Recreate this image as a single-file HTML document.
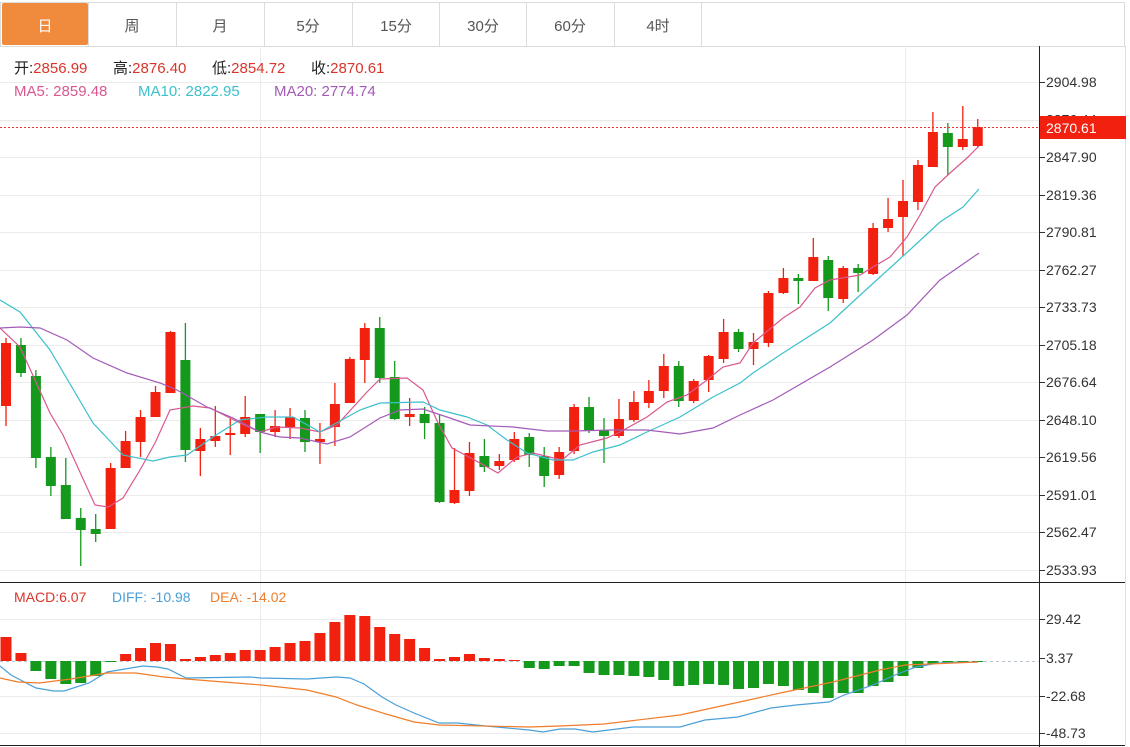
<!DOCTYPE html>
<html><head><meta charset="utf-8"><style>
html,body{margin:0;padding:0;background:#fff;width:1130px;height:747px;overflow:hidden;font-family:"Liberation Sans","Noto Sans CJK SC",sans-serif;}
svg{position:absolute;left:0;top:0}
</style></head><body>
<svg id="s" width="1130" height="747" xmlns="http://www.w3.org/2000/svg" font-family="Liberation Sans, Noto Sans CJK SC, sans-serif">
<rect x="0" y="0" width="1130" height="747" fill="#fff"/>
<rect x="0.5" y="2.5" width="1124" height="44" fill="#fff" stroke="#dcdcdc"/>
<rect x="2" y="3" width="86" height="42" fill="#f08a3c" rx="2"/>
<g stroke="#dcdcdc"><line x1="176.5" y1="3" x2="176.5" y2="46"/><line x1="264.5" y1="3" x2="264.5" y2="46"/><line x1="352.5" y1="3" x2="352.5" y2="46"/><line x1="439.5" y1="3" x2="439.5" y2="46"/><line x1="526.5" y1="3" x2="526.5" y2="46"/><line x1="614.5" y1="3" x2="614.5" y2="46"/><line x1="701.5" y1="3" x2="701.5" y2="46"/><line x1="88.5" y1="3" x2="88.5" y2="46"/></g>
<g font-size="15" fill="#555" text-anchor="middle">
<text x="45" y="31" fill="#fff">日</text><text x="132" y="31">周</text><text x="220" y="31">月</text><text x="308" y="31">5分</text><text x="396" y="31">15分</text><text x="483" y="31">30分</text><text x="570" y="31">60分</text><text x="658" y="31">4时</text>
</g>
<g id="grid" stroke="#ebebeb" stroke-width="1"></g>
<line x1="260.5" y1="46" x2="260.5" y2="745" stroke="#ebebeb"/>
<line x1="905.5" y1="46" x2="905.5" y2="745" stroke="#ebebeb"/>
<line x1="1125.5" y1="46" x2="1125.5" y2="745" stroke="#e0e0e0"/>
<g id="c"></g>
<g id="lines" fill="none" stroke-width="1.2"></g>
<line x1="0" y1="127.5" x2="1040" y2="127.5" stroke="#e33" stroke-dasharray="2,2"/>
<line x1="0" y1="661.5" x2="1040" y2="661.5" stroke="#b8c4d0" stroke-dasharray="3,3"/>
<g id="m"></g>
<g id="ml" fill="none" stroke-width="1.2"></g>
<line x1="0" y1="582.5" x2="1125" y2="582.5" stroke="#222"/>
<line x1="0" y1="745.5" x2="1125" y2="745.5" stroke="#222"/>
<line x1="1039.5" y1="46" x2="1039.5" y2="747" stroke="#222"/>
<g id="ax" font-size="14" fill="#333"></g>
<rect x="1040" y="116" width="86" height="23" fill="#f2200f"/>
<text x="1046" y="133" font-size="14" fill="#fff">2870.61</text>
<g font-size="15">
<text x="14" y="73" fill="#222">开:<tspan fill="#d9352a">2856.99</tspan></text>
<text x="113" y="73" fill="#222">高:<tspan fill="#d9352a">2876.40</tspan></text>
<text x="212" y="73" fill="#222">低:<tspan fill="#d9352a">2854.72</tspan></text>
<text x="311" y="73" fill="#222">收:<tspan fill="#d9352a">2870.61</tspan></text>
<text x="14" y="96" fill="#d9578f">MA5: 2859.48</text>
<text x="138" y="96" fill="#3cc0cc">MA10: 2822.95</text>
<text x="274" y="96" fill="#a45ab8">MA20: 2774.74</text>
</g>
<g font-size="14">
<text x="14" y="602" fill="#d9352a">MACD:6.07</text>
<text x="112" y="602" fill="#4a9fd8">DIFF: -10.98</text>
<text x="210" y="602" fill="#ef7d2a">DEA: -14.02</text>
</g>
</svg>
<script>
var NS="http://www.w3.org/2000/svg";
function el(p,t,a){var e=document.createElementNS(NS,t);for(var k in a)e.setAttribute(k,a[k]);document.getElementById(p).appendChild(e);return e;}
var gy=[82,119.5,157,195,232,270,307,345,382,420,457,495,532,570];
var gl=["2904.98","2876.44","2847.90","2819.36","2790.81","2762.27","2733.73","2705.18","2676.64","2648.10","2619.56","2591.01","2562.47","2533.93"];
gy.forEach(function(y,i){el("grid","line",{x1:0,y1:Math.round(y)+.5,x2:1040,y2:Math.round(y)+.5});el("grid","line",{x1:1040,y1:Math.round(y)+.5,x2:1045,y2:Math.round(y)+.5,stroke:"#333"});var t=el("ax","text",{x:1046,y:y+5});t.textContent=gl[i];});
[[619,"29.42"],[696,"-22.68"],[733,"-48.73"]].forEach(function(a){el("grid","line",{x1:0,y1:a[0]+.5,x2:1040,y2:a[0]+.5});});
[[619,"29.42"],[658,"3.37"],[696,"-22.68"],[733,"-48.73"]].forEach(function(a){el("grid","line",{x1:1040,y1:a[0]+.5,x2:1045,y2:a[0]+.5,stroke:"#333"});var t=el("ax","text",{x:1046,y:a[0]+5});t.textContent=a[1];});
var C=[[343,406,338,426,1],[345,373,338,377,0],[376,458,370,468,0],[457,486,447,496,0],[485,519,458,519,0],[518,530,508,566,0],[529,534,514,542,0],[468,529,463,529,1],[441,468,431,468,1],[417,442,410,457,1],[392,417,386,417,1],[332,393,331,393,1],[360,450,323,462,0],[439,451,428,476,1],[436,441,406,447,1],[433,435,418,455,1],[417,434,396,437,1],[414,432,414,453,0],[426,432,410,437,1],[417,427,408,439,1],[418,442,410,452,0],[439,442,423,464,1],[404,427,383,446,1],[359,403,357,403,1],[328,360,323,383,1],[328,378,317,383,0],[377,419,361,420,0],[414,417,398,426,1],[414,423,407,439,0],[423,502,415,503,0],[490,503,448,504,1],[453,491,442,496,1],[456,467,439,472,0],[461,466,454,470,1],[439,460,432,462,1],[437,455,433,467,0],[456,476,447,487,0],[452,475,447,479,1],[407,451,404,454,1],[407,431,397,433,0],[430,436,418,463,0],[419,436,399,438,1],[402,420,391,422,1],[391,403,380,408,1],[366,391,354,398,1],[366,401,361,407,0],[381,401,379,403,1],[356,380,355,392,1],[332,359,319,363,1],[332,349,329,352,0],[342,349,333,365,1],[293,343,291,347,1],[278,293,268,294,1],[278,281,274,304,0],[257,281,238,281,1],[260,298,256,311,0],[268,299,266,303,1],[268,273,264,292,0],[228,274,223,275,1],[219,228,198,232,1],[201,217,180,256,1],[165,202,160,210,1],[132,167,112,167,1],[133,147,123,175,0],[139,147,106,150,1],[127,146,119,147,1]];
var R="#f2200f",G="#14991c";
C.forEach(function(c,i){var x=6+i*14.95;var col=c[4]?R:G;el("c","line",{x1:x,y1:c[2],x2:x,y2:c[3],stroke:col,"stroke-width":1.3});el("c","rect",{x:x-5,y:c[0],width:10,height:Math.max(2,c[1]-c[0]),fill:col});});
function pl(p,pts,col){el(p,"polyline",{points:pts,stroke:col});}
pl("lines","0,328 20,347 50,413 63,435 95,505 108,507 123,498 140,470 155,443 170,410 193,406 210,408 240,423 260,432 277,427 300,428 320,432 337,425 367,392 380,379 407,378 423,390 438,423 452,448 480,463 498,473 517,457 533,453 562,460 580,445 607,438 620,432 647,417 667,402 687,395 707,380 723,367 740,363 753,343 783,318 800,307 815,288 830,280 860,275 873,267 890,257 907,237 920,215 935,187 950,173 967,158 979,146","#d9578f");
pl("lines","0,300 20,312 50,350 93,423 123,455 153,461 170,457 187,455 213,437 240,420 267,417 293,417 320,432 360,410 380,403 423,402 440,410 467,417 487,425 507,440 527,453 553,460 573,460 593,452 620,445 647,432 680,417 713,397 740,383 753,373 783,353 830,323 857,298 890,268 913,247 940,222 963,207 979,189","#3cc0cc");
pl("lines","0,328 20,327 40,328 67,340 93,358 127,373 160,383 177,390 207,407 233,418 260,432 280,437 300,438 327,444 350,437 380,418 400,410 423,409 447,417 470,425 513,427 547,431 573,431 613,430 647,430 680,434 713,428 740,415 773,400 830,367 873,340 907,315 940,280 979,253","#a45ab8");
var M=[637,653,671,679,684,683,676,661,654,648,643,644,659,657,655,653,650,650,647,643,641,633,622,615,616,627,634,639,648,659,657,654,658,659,660,668,669,666,666,673,675,675,676,677,680,686,685,684,685,689,688,684,686,690,693,698,693,693,686,682,676,668,664,663,662,662];
var Z=661;
M.forEach(function(v,i){var x=6+i*14.95;var y0=Math.min(v,Z),h=Math.abs(v-Z);if(h<1)h=1;el("m","rect",{x:x-5.5,y:y0,width:11,height:h,fill:v<Z?R:G});});
pl("ml","0,666 11,675 36,688 54,691 64,691 89,683 107,672 143,666 157,667 168,669 186,678 250,677 261,678 307,679 336,677 350,678 364,684 382,697 396,705 414,713 439,723 457,723 486,726 529,730 543,732 560,729 575,729 593,732 633,727 680,727 705,720 738,717 771,708 796,705 829,702 844,695 873,685 895,675 916,667 938,663 978,662","#4a9fd8");
pl("ml","0,678 18,682 39,683 71,679 107,673 136,673 164,677 186,679 261,685 307,690 336,697 357,705 386,714 414,722 439,725 529,727 560,726 604,724 680,715 735,703 785,692 833,682 880,670 905,665 978,662","#ef7d2a");
</script>
</body></html>
